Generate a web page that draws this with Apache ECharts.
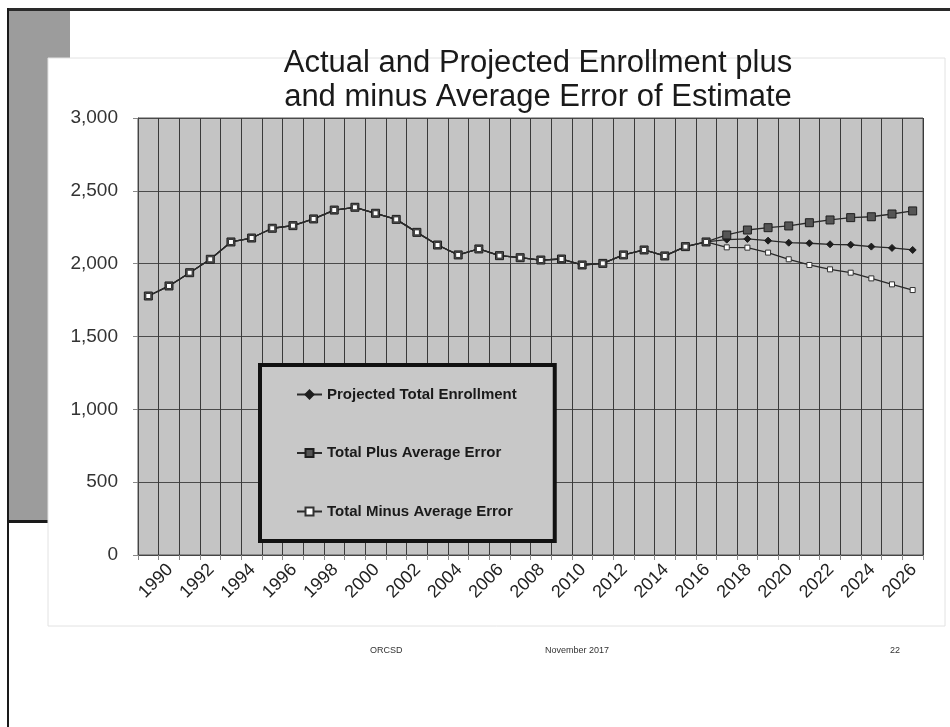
<!DOCTYPE html>
<html>
<head>
<meta charset="utf-8">
<title>Actual and Projected Enrollment</title>
<script src="https://cdn.jsdelivr.net/npm/echarts@6/dist/echarts.min.js"></script>
<style>
  html, body { margin: 0; padding: 0; background: #ffffff; }
  #chart { width: 950px; height: 727px; }
</style>
</head>
<body>
<div id="chart"></div>
<script>
// School years shown on the category axis
const years = [];
for (let y = 1990; y <= 2027; y++) years.push(String(y));

// Actual enrollment, 1990 - 2017
const actual = [1778, 1847, 1938, 2030, 2149, 2176, 2243, 2261, 2307, 2368,
                2387, 2346, 2304, 2215, 2128, 2060, 2101, 2055, 2041, 2025,
                2032, 1991, 2002, 2060, 2094, 2053, 2117, 2149];

// Projections, 2018 - 2027
const projected = [2165, 2170, 2158, 2144, 2140, 2133, 2130, 2117, 2108, 2094];
const plusError = [2197, 2231, 2247, 2259, 2281, 2300, 2316, 2322, 2341, 2362];
const minusError = [2112, 2110, 2076, 2030, 1991, 1961, 1938, 1899, 1858, 1819];

// Every other year carries a label
const yearLabelIdx = [0, 2, 4, 6, 8, 10, 12, 14, 16, 18, 20, 22, 24, 26, 28, 30, 32, 34, 36];

const yTicks = [0, 500, 1000, 1500, 2000, 2500, 3000];

const seriesNames = ['Projected Total Enrollment', 'Total Plus Average Error', 'Total Minus Average Error'];

const withHistory = arr => actual.concat(arr);

// Year labels sit a little to the right of each category centre
const labelShift = 1.05;

const chart = echarts.init(document.getElementById('chart'));

chart.setOption({
  animation: false,
  backgroundColor: '#ffffff',
  textStyle: { fontFamily: 'Liberation Sans, Arial, sans-serif' },
  graphic: [
    // slide frame
    { type: 'rect', z: -20, shape: { x: 9, y: 11, width: 61, height: 511 }, style: { fill: '#9c9c9c' } },
    { type: 'rect', z: -19, shape: { x: 8, y: 520, width: 40, height: 3 }, style: { fill: '#1a1a1a' } },
    { type: 'rect', z: -19, shape: { x: 8, y: 8, width: 942, height: 3 }, style: { fill: '#2a2a2a' } },
    { type: 'rect', z: -19, shape: { x: 7, y: 8, width: 2, height: 719 }, style: { fill: '#1a1a1a' } },
    // chart panel
    { type: 'rect', z: -15, shape: { x: 48, y: 58, width: 897, height: 568 },
      style: { fill: '#ffffff', stroke: '#e2e2e2', lineWidth: 1 } },
    // footer
    { type: 'text', z: 5, left: 370, top: 646, style: { text: 'ORCSD', fill: '#333', font: '9px Liberation Sans' } },
    { type: 'text', z: 5, left: 545, top: 646, style: { text: 'November 2017', fill: '#333', font: '9px Liberation Sans' } },
    { type: 'text', z: 5, left: 890, top: 646, style: { text: '22', fill: '#333', font: '9px Liberation Sans' } }
  ],
  title: {
    text: 'Actual and Projected Enrollment plus\nand minus Average Error of Estimate',
    left: 533,
    top: 41,
    textAlign: 'center',
    textStyle: { fontSize: 31, fontWeight: 'normal', color: '#1a1a1a', lineHeight: 34,
                 fontFamily: 'Liberation Sans, Arial, sans-serif' }
  },
  legend: {
    data: seriesNames,
    orient: 'vertical',
    left: 260,
    top: 365,
    padding: [22, 38, 22, 36],
    itemGap: 43.5,
    itemWidth: 25,
    itemHeight: 10,
    backgroundColor: '#c8c8c8',
    borderColor: '#111111',
    borderWidth: 4,
    textStyle: { fontSize: 15, fontWeight: 'bold', color: '#1a1a1a' }
  },
  grid: {
    left: 138, top: 118, right: 27, bottom: 172,
    show: true,
    backgroundColor: '#c4c4c4',
    borderColor: '#555555',
    borderWidth: 1
  },
  xAxis: [
    {
      type: 'category',
      data: years,
      boundaryGap: true,
      axisLine: { lineStyle: { color: '#444', width: 1 } },
      axisTick: { show: true, interval: 0, length: 5, lineStyle: { color: '#888' } },
      axisLabel: { show: false },
      splitLine: { show: true, interval: 0, lineStyle: { color: '#3a3a3a', width: 1 } }
    },
    {
      // label-only axis sharing the category scale, offset to place the rotated years
      type: 'value',
      position: 'bottom',
      min: -0.5 - labelShift,
      max: years.length - 0.5 - labelShift,
      axisLine: { show: false },
      axisTick: { show: false },
      splitLine: { show: false },
      axisLabel: {
        customValues: yearLabelIdx,
        formatter: v => years[Math.round(v)],
        rotate: 45, fontSize: 18, color: '#222', margin: 12
      }
    }
  ],
  yAxis: {
    type: 'value',
    min: yTicks[0],
    max: yTicks[yTicks.length - 1],
    interval: 500,
    axisLine: { show: true, onZero: false, lineStyle: { color: '#444', width: 1 } },
    axisTick: { show: true, length: 5, lineStyle: { color: '#888' } },
    axisLabel: { fontSize: 19, color: '#333', margin: 20,
                 formatter: v => v.toLocaleString('en-US') },
    splitLine: { show: true, lineStyle: { color: '#4a4a4a', width: 1 } }
  },
  series: [
    {
      name: seriesNames[0], type: 'line', data: withHistory(projected),
      symbol: 'diamond', symbolSize: 7,
      itemStyle: { color: '#1e1e1e', borderColor: '#1e1e1e', borderWidth: 1 },
      lineStyle: { color: '#2a2a2a', width: 1.3 }
    },
    {
      name: seriesNames[1], type: 'line', data: withHistory(plusError),
      symbol: 'rect', symbolSize: 8,
      itemStyle: { color: '#555555', borderColor: '#1e1e1e', borderWidth: 1 },
      lineStyle: { color: '#2a2a2a', width: 1.3 }
    },
    {
      name: seriesNames[2], type: 'line', data: withHistory(minusError),
      symbol: 'rect', symbolSize: 5,
      itemStyle: { color: '#ffffff', borderColor: '#333333', borderWidth: 1 },
      lineStyle: { color: '#2a2a2a', width: 1.3 }
    }
  ]
});
</script>
</body>
</html>
